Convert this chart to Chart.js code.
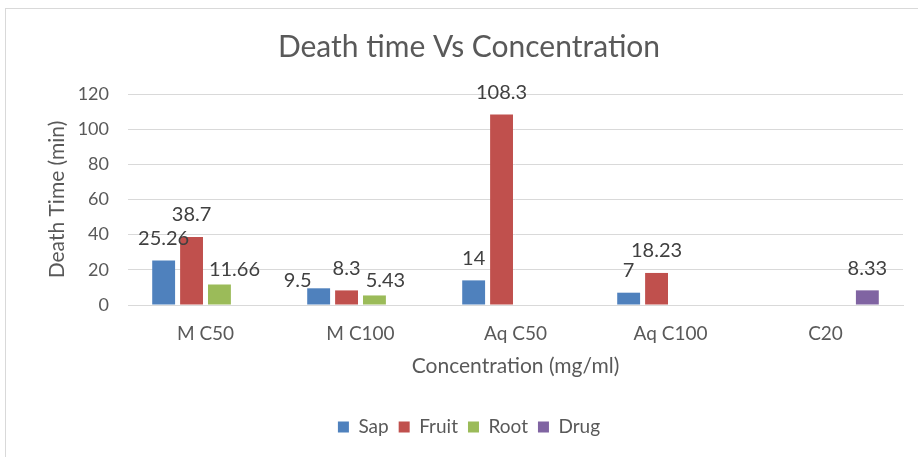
<!DOCTYPE html>
<html>
<head>
<meta charset="utf-8">
<script src="https://cdn.jsdelivr.net/npm/chart.js@4"></script>
<style>
  html, body { margin: 0; padding: 0; background: #fff; }
  #wrap { width: 918px; height: 457px; position: relative; }
</style>
</head>
<body>
<div id="wrap"><canvas id="barras" width="918" height="457"></canvas></div>
<script>
/* datos del gráfico */
var categorias = ["M C50", "M C100", "Aq C50", "Aq C100", "C20"];
var sap   = [25.26, 9.5, 14, 7, null];
var fruit = [38.7, 8.3, 108.3, 18.23, null];
var root  = [11.66, 5.43, null, null, null];
var drug  = [null, null, null, null, 8.33];
var ticksY = [0, 20, 40, 60, 80, 100, 120];

var fuente = "Lato, 'Open Sans', sans-serif";

// pequeños desplazamientos de etiquetas (como los coloca Excel): "serie-índice": [dx, dy]
var ajustes = { "0-1": [-21, 14], "2-0": [15, 7], "2-1": [11, 7] };

/* marco gris del gráfico */
var marco = {
    id: "marco",
    beforeDraw: function (chart) {
        var ctx = chart.ctx;
        ctx.save();
        ctx.fillStyle = "#ffffff";
        ctx.fillRect(0, 0, chart.width, chart.height);
        ctx.strokeStyle = "#d9d9d9";
        ctx.lineWidth = 1;
        ctx.strokeRect(5.5, 8.5, 1000, 1000);
        ctx.restore();
    }
};

/* etiquetas encima de las barras */
var etiquetas = {
    id: "etiquetas",
    afterDatasetsDraw: function (chart) {
        var ctx = chart.ctx;
        ctx.save();
        ctx.font = "20px " + fuente;
        ctx.fillStyle = "#404040";
        ctx.textAlign = "center";
        ctx.textBaseline = "middle";
        chart.data.datasets.forEach(function (ds, i) {
            var meta = chart.getDatasetMeta(i);
            meta.data.forEach(function (bar, j) {
                var v = ds.data[j];
                if (v === null || v === undefined) return;
                var aj = ajustes[i + "-" + j] || [0, 0];
                ctx.fillText(String(v), bar.x + aj[0], bar.y - 22 + aj[1]);
            });
        });
        ctx.restore();
    }
};

function cargaGrafico() {
    var datos = {
        labels: categorias,
        datasets: [
            { label: "Sap", backgroundColor: "#4f81bd", data: sap },
            { label: "Fruit", backgroundColor: "#c0504d", data: fruit },
            { label: "Root", backgroundColor: "#9bbb59", data: root },
            { label: "Drug", backgroundColor: "#8064a2", data: drug }
        ]
    };

    var config = {
        type: "bar",
        data: datos,
        plugins: [marco, etiquetas],
        options: {
            responsive: false,
            animation: false,
            categoryPercentage: 0.72,
            barPercentage: 0.82,
            layout: {
                padding: { top: 0, left: 35, right: 15, bottom: 10.5 }
            },
            plugins: {
                title: {
                    display: true,
                    text: "Death time Vs Concentration",
                    color: "#595959",
                    font: { family: fuente, size: 30, weight: "normal" },
                    padding: { top: 29, bottom: 29 }
                },
                legend: {
                    position: "bottom",
                    labels: {
                        boxWidth: 11,
                        boxHeight: 11,
                        padding: 10,
                        color: "#595959",
                        font: { family: fuente, size: 19 }
                    }
                },
                tooltip: { enabled: false }
            },
            scales: {
                x: {
                    grid: { display: false, drawTicks: false },
                    border: { color: "#d9d9d9" },
                    ticks: {
                        color: "#595959",
                        padding: 17,
                        font: { family: fuente, size: 19 }
                    },
                    title: {
                        display: true,
                        text: "Concentration (mg/ml)",
                        color: "#595959",
                        font: { family: fuente, size: 21 },
                        padding: { top: 0, bottom: 29 }
                    },
                    afterFit: function (scale) { scale.height = 102.5; }
                },
                y: {
                    min: 0,
                    max: 120,
                    afterBuildTicks: function (scale) {
                        scale.ticks = ticksY.map(function (v) { return { value: v }; });
                    },
                    grid: { color: "#d9d9d9", drawTicks: false },
                    border: { display: false },
                    ticks: {
                        color: "#595959",
                        padding: 19,
                        font: { family: fuente, size: 18 }
                    },
                    title: {
                        display: true,
                        text: "Death Time (min)",
                        color: "#595959",
                        font: { family: fuente, size: 21 },
                        padding: { top: 9.5, bottom: 0 }
                    },
                    afterFit: function (scale) { scale.width = 93; }
                }
            }
        }
    };
    new Chart(document.getElementById("barras").getContext("2d"), config);
}

cargaGrafico();
</script>
</body>
</html>
